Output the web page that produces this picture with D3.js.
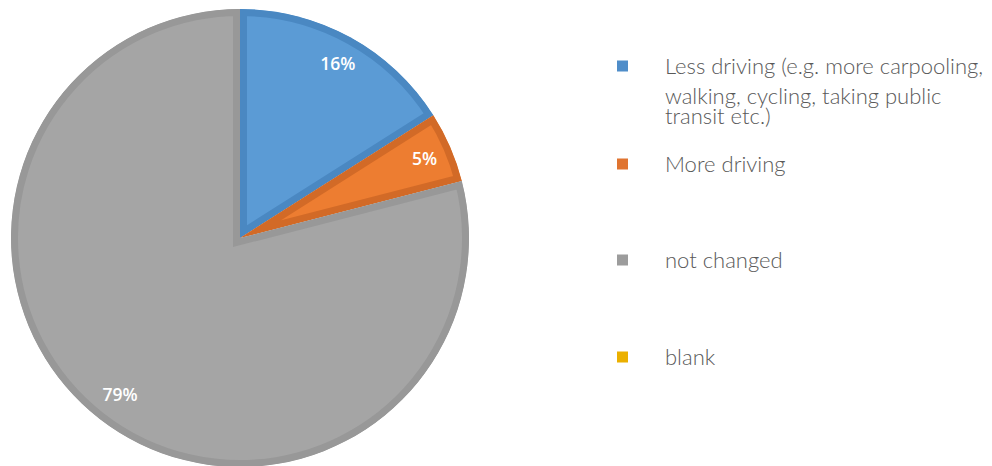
<!DOCTYPE html>
<html><head><meta charset="utf-8">
<script src="https://cdn.jsdelivr.net/npm/d3@7"></script>
<style>html,body{margin:0;padding:0;background:#fff;}</style>
</head><body>
<svg id="chart" width="992" height="466"></svg>
<script>
const categories = ["Less driving (e.g. more carpooling, walking, cycling, taking public transit etc.)", "More driving", "not changed", "blank"];
const values = [16, 5, 79, 0];
const labels = ["16%", "5%", "79%", ""];
const legendLines = [["Less driving (e.g. more carpooling,", "walking, cycling, taking public", "transit etc.)"], ["More driving"], ["not changed"], ["blank"]];
const fills = ["#5B9BD5", "#ED7D31", "#A5A5A5", "#FFC000"];
const borders = ["#4A88C2", "#D26A27", "#989898", "#E0A800"];
const legendColors = ["#4F8DC9", "#E07430", "#9C9C9C", "#EBB000"];

const svg = d3.select("#chart");
const cx = 240, cy = 238, R = 229, bw = 7;
const pie = d3.pie().sort(null).value(d => d)(values);
const arc = d3.arc().innerRadius(0).outerRadius(R);
const labelArc = d3.arc().innerRadius(199).outerRadius(199);
const g = svg.append("g").attr("transform", `translate(${cx},${cy})`);
const defs = svg.append("defs");
pie.forEach((p, i) => {
  if (p.value === 0) return;
  defs.append("clipPath").attr("id", "clip" + i).append("path").attr("d", arc(p));
  g.append("path").attr("d", arc(p)).attr("fill", fills[i])
    .attr("stroke", borders[i]).attr("stroke-width", bw * 2)
    .attr("stroke-linejoin", "miter")
    .attr("clip-path", `url(#clip${i})`);
});
pie.forEach((p, i) => {
  if (!labels[i]) return;
  const c = labelArc.centroid(p);
  g.append("text").attr("x", c[0] + 2).attr("y", c[1]).attr("dy", "0.35em")
    .attr("text-anchor", "middle").attr("fill", "#fff")
    .attr("font-family", "'Open Sans', sans-serif").attr("font-weight", 600)
    .attr("font-size", 17.5).text(labels[i]);
});

const legendY = [66, 164, 260, 357];
const lg = svg.append("g");
categories.forEach((c, i) => {
  lg.append("rect").attr("x", 617).attr("y", legendY[i] - 5.5).attr("width", 11).attr("height", 11)
    .attr("fill", legendColors[i]);
  const t = lg.append("text").attr("x", 665).attr("y", legendY[i] + 8)
    .attr("fill", "#595959").attr("font-family", "Lato, sans-serif").attr("font-weight", 300)
    .attr("font-size", 22);
  legendLines[i].forEach((ln, j) => {
    t.append("tspan").attr("x", 665).attr("dy", j === 0 ? 0 : (j === 1 ? 30 : 20)).text(ln);
  });
});
</script>
</body></html>
